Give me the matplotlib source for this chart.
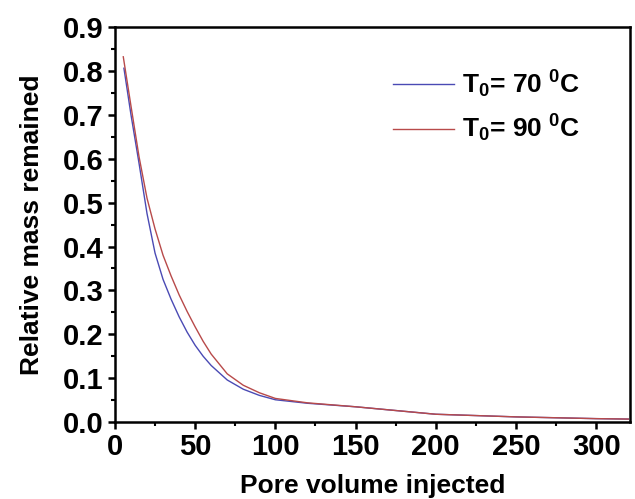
import matplotlib
matplotlib.use("Agg")
import matplotlib.pyplot as plt
from matplotlib.ticker import MultipleLocator

plt.rcParams['font.family'] = ['Liberation Sans', 'DejaVu Sans']
plt.rcParams['font.weight'] = 'bold'
plt.rcParams['mathtext.fontset'] = 'custom'
plt.rcParams['mathtext.rm'] = 'Liberation Sans:bold'
plt.rcParams['mathtext.bf'] = 'Liberation Sans:bold'
plt.rcParams['mathtext.default'] = 'rm'

# data
pv_70 = [5.6, 10, 15, 20, 25, 30, 35, 40, 45, 50, 55, 60, 70, 80, 90, 100,
         120, 150, 200, 250, 300, 320]
mass_70 = [0.806, 0.70, 0.59, 0.475, 0.385, 0.325, 0.28, 0.24, 0.205, 0.175,
           0.15, 0.129, 0.096, 0.075, 0.061, 0.051, 0.043, 0.035, 0.018,
           0.012, 0.008, 0.007]
pv_90 = [5.2, 10, 15, 20, 25, 30, 35, 40, 45, 50, 55, 60, 70, 80, 90, 100,
         120, 150, 200, 250, 300, 320]
mass_90 = [0.832, 0.72, 0.605, 0.51, 0.44, 0.38, 0.333, 0.29, 0.252, 0.217,
           0.184, 0.155, 0.11, 0.084, 0.067, 0.054, 0.044, 0.035, 0.018,
           0.012, 0.008, 0.007]

fig = plt.figure(figsize=(6.35, 4.99), dpi=100)
ax = fig.add_axes([0.181, 0.154, 0.811, 0.792])

ax.plot(pv_70, mass_70, color="#4a4ab4", lw=1.0, label=r"T$_0$= 70 $^0$C")
ax.plot(pv_90, mass_90, color="#b84a4a", lw=1.0, label=r"T$_0$= 90 $^0$C")

ax.set_xlim(0, 321)
ax.set_ylim(0, 0.9)
ax.xaxis.set_major_locator(MultipleLocator(50))
ax.xaxis.set_minor_locator(MultipleLocator(25))
ax.yaxis.set_major_locator(MultipleLocator(0.1))
ax.yaxis.set_minor_locator(MultipleLocator(0.05))
ax.yaxis.set_major_formatter(plt.FormatStrFormatter('%.1f'))

for s in ax.spines.values():
    s.set_linewidth(1.8)
ax.tick_params(which='major', length=5, width=1.8, labelsize=21, pad=3)
ax.tick_params(which='minor', length=3, width=1.5)

ax.set_xlabel("Pore volume injected", fontsize=19, fontweight='bold', labelpad=9)
ax.set_ylabel("Relative mass remained", fontsize=19, fontweight='bold', labelpad=14)

ax.legend(loc='upper left', bbox_to_anchor=(0.54, 0.895), frameon=False,
          borderpad=0, borderaxespad=0,
          fontsize=19, handlelength=2.3, handletextpad=0.3, labelspacing=0.5)

fig.savefig("out.png", dpi=100)
